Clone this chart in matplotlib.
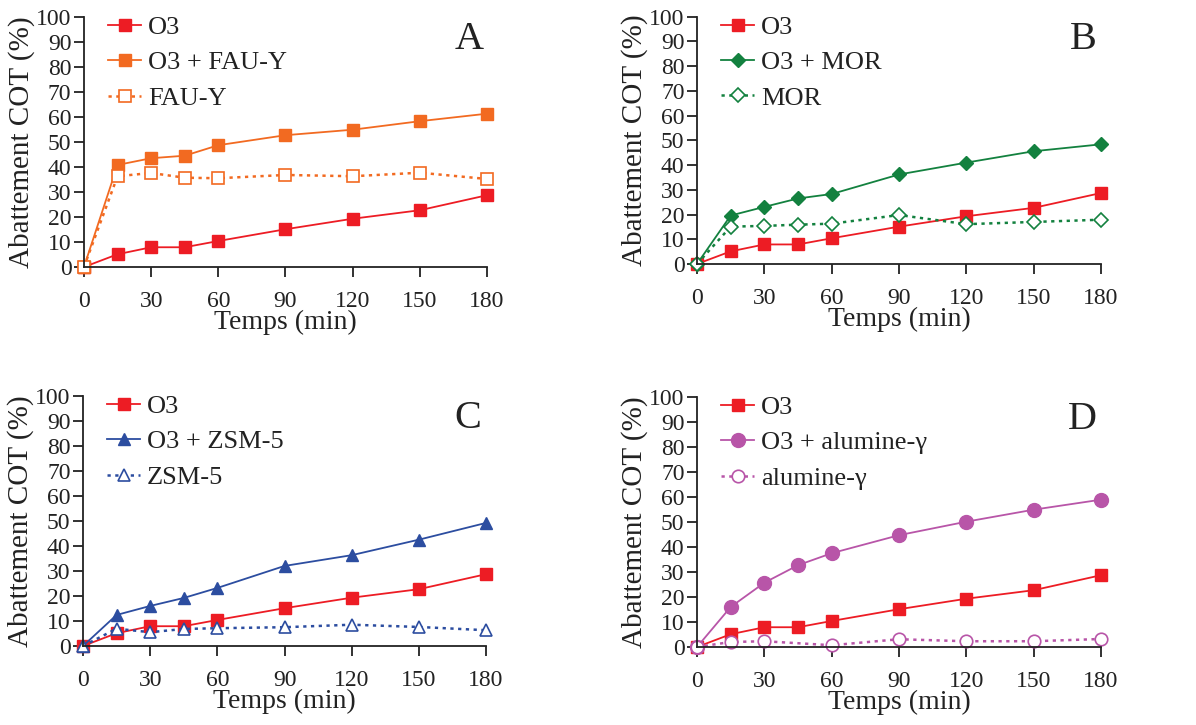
import matplotlib.pyplot as plt

plt.rcParams['font.family'] = ['Liberation Serif', 'DejaVu Serif']

# Données
temps = [0, 15, 30, 45, 60, 90, 120, 150, 180]
o3 = [0, 5.1, 7.9, 7.9, 10.4, 15.1, 19.3, 22.7, 28.7]

o3_fau = [0, 40.8, 43.5, 44.5, 48.7, 52.7, 54.9, 58.3, 61.3]
fau = [0, 36.3, 37.6, 35.7, 35.5, 36.8, 36.3, 37.7, 35.2]

o3_mor = [0, 19.6, 23.1, 26.5, 28.3, 36.2, 41.0, 45.6, 48.4]
mor = [0, 15.1, 15.4, 15.9, 16.3, 19.8, 16.1, 17.0, 17.9]

o3_zsm = [0, 12.4, 16.0, 19.2, 23.2, 32.0, 36.3, 42.5, 49.2]
zsm = [0, 6.9, 5.5, 6.8, 7.1, 7.5, 8.5, 7.6, 6.3]

o3_alu = [0, 16.0, 25.7, 32.7, 37.5, 44.7, 50.1, 54.9, 58.9]
temps_alu = [0, 15, 30, 60, 90, 120, 150, 180]
alu = [0, 2.0, 2.3, 0.7, 3.1, 2.3, 2.3, 3.2]

rouge = '#ED1C24'

panneaux = [
    ('A', [0.0702, 0.6317, 0.337, 0.345], o3_fau, temps, fau, 'FAU-Y', '#F26A21', 's', 9, 8),
    ('B', [0.5828, 0.6359, 0.3378, 0.341], o3_mor, temps, mor, 'MOR', '#13813F', 'D', 7, 7),
    ('C', [0.0694, 0.1090, 0.337, 0.345], o3_zsm, temps, zsm, 'ZSM-5', '#2C4DA0', '^', 9, 8),
    ('D', [0.5828, 0.1076, 0.3378, 0.345], o3_alu, temps_alu, alu, 'alumine-γ', '#B855A8', 'o', 10, 9),
]

fig = plt.figure(figsize=(11.96, 7.25), dpi=100)

for lettre, pos, combi, t_seul, seul, nom, couleur, mk, ms1, ms2 in panneaux:
    ax = fig.add_axes(pos)
    ax.plot(temps, o3, color=rouge, marker='s', markersize=9, lw=1.3, label='O3')
    ax.plot(temps, combi, color=couleur, marker=mk, markersize=ms1, lw=1.3,
            label='O3 + ' + nom)
    ax.plot(t_seul, seul, color=couleur, marker=mk, markersize=ms2, lw=1.8,
            linestyle=(0, (1.3, 1.8)), markerfacecolor='white', markeredgewidth=1.2,
            label=nom)
    ax.set_xlim(0, 180)
    ax.set_ylim(0, 100)
    ax.set_xticks([0, 30, 60, 90, 120, 150, 180])
    ax.set_yticks(range(0, 101, 10))
    for c in ['top', 'right']:
        ax.spines[c].set_visible(False)
    for c in ['left', 'bottom']:
        ax.spines[c].set_linewidth(1.3)
        ax.spines[c].set_color('#222222')
    ax.tick_params(direction='out', length=7, width=1.3, labelsize=17,
                   colors='#222222')
    ax.tick_params(axis='x', pad=10)
    ax.tick_params(axis='y', pad=2)
    ax.set_xlabel('Temps (min)', fontsize=20, labelpad=-1, color='#222222')
    ax.set_ylabel('Abattement COT (%)', fontsize=21, labelpad=1, color='#222222')
    ax.text(0.955, 0.908, lettre, transform=ax.transAxes, fontsize=29,
            ha='center', va='center', color='#222222')
    leg = ax.legend(loc='upper left', bbox_to_anchor=(0.06, 1.005), frameon=False,
                    fontsize=19, handlelength=1.25, handletextpad=0.25,
                    labelspacing=0.45, borderpad=0, borderaxespad=0)
    for t in leg.get_texts():
        t.set_color('#222222')
    for l in ax.lines:
        l.set_clip_on(False)

fig.savefig('out.png', dpi=100)
